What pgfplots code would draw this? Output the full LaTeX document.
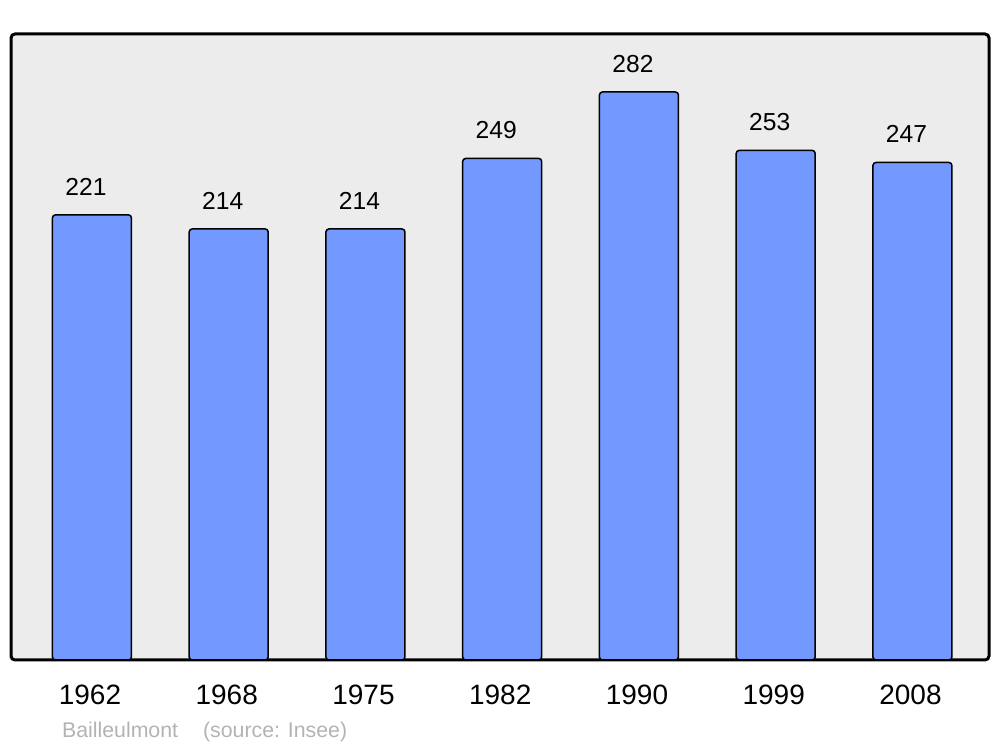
\documentclass[border=0pt]{standalone}
\usepackage{pgfplots}
\pgfplotsset{compat=1.18}
\usepackage{fontspec}
\setmainfont{Liberation Sans}
\definecolor{barblue}{HTML}{7399FF}
\definecolor{bggray}{HTML}{ECECEC}
\definecolor{srcgray}{HTML}{B3B3B3}
\begin{document}
\begin{tikzpicture}
\path[use as bounding box] (-5.5pt,-43.5pt) rectangle (494.5pt,330pt);
\begin{axis}[
    at={(0,0)}, anchor=south west,
    scale only axis,
    width=489pt, height=313pt,
    xmin=-0.592, xmax=6.56,
    ymin=0, ymax=310.8,
    axis background/.style={fill=bggray},
    axis line style={line width=1.5pt, rounded corners=2pt},
    ytick=\empty,
    xtick=data,
    xticklabels={1962,1968,1975,1982,1990,1999,2008},
    major tick length=0pt,
    /pgf/number format/assume math mode=true,
    xticklabel style={font=\fontsize{14}{16}\selectfont, anchor=north, inner sep=0pt, yshift=-12.5pt, xshift=-1pt},
    nodes near coords,
    nodes near coords style={font=\fontsize{12.3}{14}\selectfont, anchor=south, inner sep=0pt, yshift=9.5pt, xshift=-3pt},
]
\addplot[ybar, bar width=39.5pt, fill=barblue, draw=black, line width=0.75pt, rounded corners=1.5pt] coordinates {
    (0,221) (1,214) (2,214) (3,249) (4,282) (5,253) (6,247)
};
\end{axis}
\node[anchor=base west, inner sep=0pt, text=srcgray, font=\fontsize{10.65}{12}\selectfont] at (25.35pt,-38.65pt) {Bailleulmont\hspace{12.5pt}(source: Insee)};
\end{tikzpicture}
\end{document}
